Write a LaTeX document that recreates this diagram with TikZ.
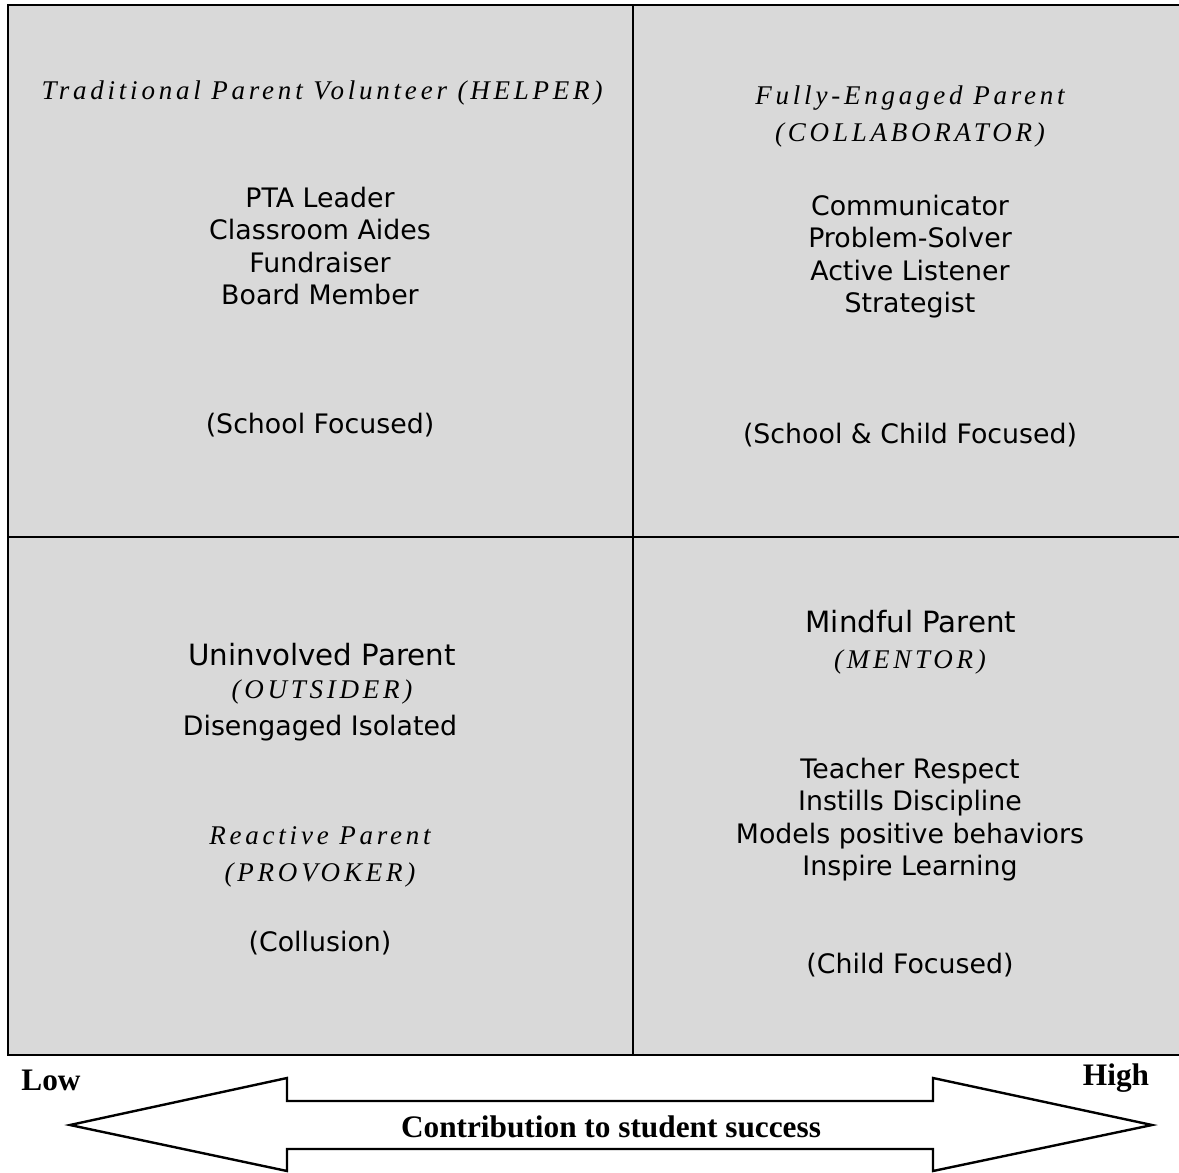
\documentclass[tikz,border=0pt]{standalone}
\usepackage{fontspec}
\setmainfont{Liberation Serif}
\setsansfont{DejaVu Sans}
\newfontfamily\rolefont[LetterSpace=14]{Liberation Serif}
\newcommand{\bodyfont}{\sffamily\fontsize{26.8}{32.3}\selectfont}
\newcommand{\headfont}{\sffamily\fontsize{29.3}{34}\selectfont}
\newcommand{\rolesize}{\rolefont\itshape\fontsize{27}{37}\selectfont}
\newcommand{\axisfont}{\rmfamily\bfseries\fontsize{31.3}{34}\selectfont}
\definecolor{cellgray}{HTML}{D9D9D9}

\begin{document}
\begin{tikzpicture}[x=1pt,y=-1pt,
    body/.style={align=center,inner sep=0pt,font=\bodyfont},
    head/.style={align=center,inner sep=0pt,font=\headfont},
    role/.style={align=center,inner sep=0pt,font=\rolesize},
    axis/.style={inner sep=0pt,font=\axisfont}]
     \useasboundingbox (0,0) rectangle (1179,1173);
     % quadrants
     \fill[cellgray] (8,5) rectangle (1188,1055);
     \draw[line width=2.2pt] (8,5) rectangle (1188,1055);
     \draw[line width=2.2pt] (633,5) -- (633,1055);
     \draw[line width=2.2pt] (8,537) -- (1188,537);
     % upper left
     \node[role] (helper) at (322,93) {Traditional Parent Volunteer (HELPER)};
     \node[body] (helperlist) at (320,246) {PTA Leader\\Classroom Aides\\Fundraiser\\Board Member};
     \node[body] (school) at (320,425) {(School Focused)};
     % upper right
     \node[role] (collab) at (910,116.5) {Fully-Engaged Parent\\(COLLABORATOR)};
     \node[body] (collablist) at (910,256.5) {Communicator\\Problem-Solver\\Active Listener\\Strategist};
     \node[body] (schoolchild) at (910,435) {(School \& Child Focused)};
     % lower left
     \node[head] (uninvolved) at (322,655) {Uninvolved Parent};
     \node[role] (outsider) at (322,692) {(OUTSIDER)};
     \node[body] (disengaged) at (320,728) {Disengaged Isolated};
     \node[role] (provoker) at (320,857) {Reactive Parent\\(PROVOKER)};
     \node[body] (collusion) at (320,943) {(Collusion)};
     % lower right
     \node[head] (mindful) at (911,622) {Mindful Parent};
     \node[role] (mentor) at (910,662) {(MENTOR)};
     \node[body] (mentorlist) at (910,819.5) {Teacher Respect\\Instills Discipline\\Models positive behaviors\\Inspire Learning};
     \node[body] (child) at (910,965) {(Child Focused)};
     % scale
     \node[axis] (low) at (51,1080) {Low};
     \node[axis] (high) at (1116,1078) {High};
     \draw[line width=2.4pt,line join=miter]
      (70,1125) -- (287,1078) -- (287,1101) -- (933,1101) -- (933,1078)
      -- (1152,1125) -- (933,1171) -- (933,1149) -- (287,1149) -- (287,1171) -- cycle;
     \node[axis] (contrib) at (611,1127) {Contribution to student success};
    \end{tikzpicture}
\end{document}
